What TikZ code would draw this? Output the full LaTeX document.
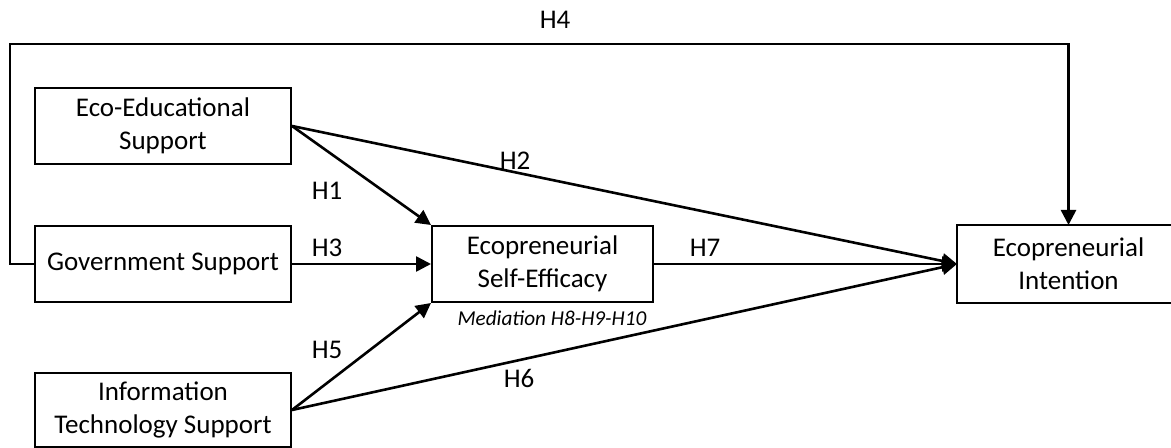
\documentclass[tikz,border=0pt]{standalone}
\usepackage{fontspec}
\setmainfont{Carlito}
\usetikzlibrary{arrows.meta}
\begin{document}
\begin{tikzpicture}[x=0.5pt,y=-0.5pt,
  box/.style={draw=black,line width=1pt,align=center,inner sep=0pt,
    minimum width=128pt,minimum height=38pt,
    font=\fontsize{13.5}{16.5}\selectfont},
  wbox/.style={box,minimum width=110.5pt},
  lbl/.style={inner sep=0pt,font=\fontsize{13.5}{16.5}\selectfont},
  med/.style={inner sep=0pt,font=\fontsize{10.6}{12}\selectfont\itshape},
  arr/.style={line width=1.3pt,-{Triangle[length=7.5pt,width=7.5pt]}}]
\clip (0,0) rectangle (1171,448);
\useasboundingbox (0,0) rectangle (1171,448);
\node[box] (eco) at (163,126) {Eco-Educational\\Support};
\node[box] (gov) at (163,264) {Government Support};
\node[box,minimum height=37pt] (info) at (163,410) {Information\\Technology Support};
\node[wbox] (ese) at (542.5,264) {Ecopreneurial\\Self-Efficacy};
\node[wbox,draw=none] (int) at (1068.5,264) {Ecopreneurial\\Intention};
\draw[line width=1pt] (int.north west) rectangle ([xshift=20pt]int.south east);
\node[med] (medtxt) at (552,318) {Mediation H8-H9-H10};
\coordinate (tl) at (10,44);
\draw[arr] (eco.east) -- (ese.north west);
\draw[arr] (eco.east) -- (int.west);
\draw[arr] (gov.east) -- (ese.west);
\draw[arr] (ese.east) -- (int.west);
\draw[arr] (info.east) -- (ese.south west);
\draw[arr] (info.east) -- (int.west);
\draw[arr] (gov.west) -| (tl) -| (int.north);
\node[lbl] (h1) at (327,191) {H1};
\node[lbl] (h2) at (515,161) {H2};
\node[lbl] (h3) at (327,248) {H3};
\node[lbl] (h4) at (555,20) {H4};
\node[lbl] (h5) at (327,350) {H5};
\node[lbl] (h6) at (519,378) {H6};
\node[lbl] (h7) at (705,248) {H7};
\end{tikzpicture}
\end{document}
